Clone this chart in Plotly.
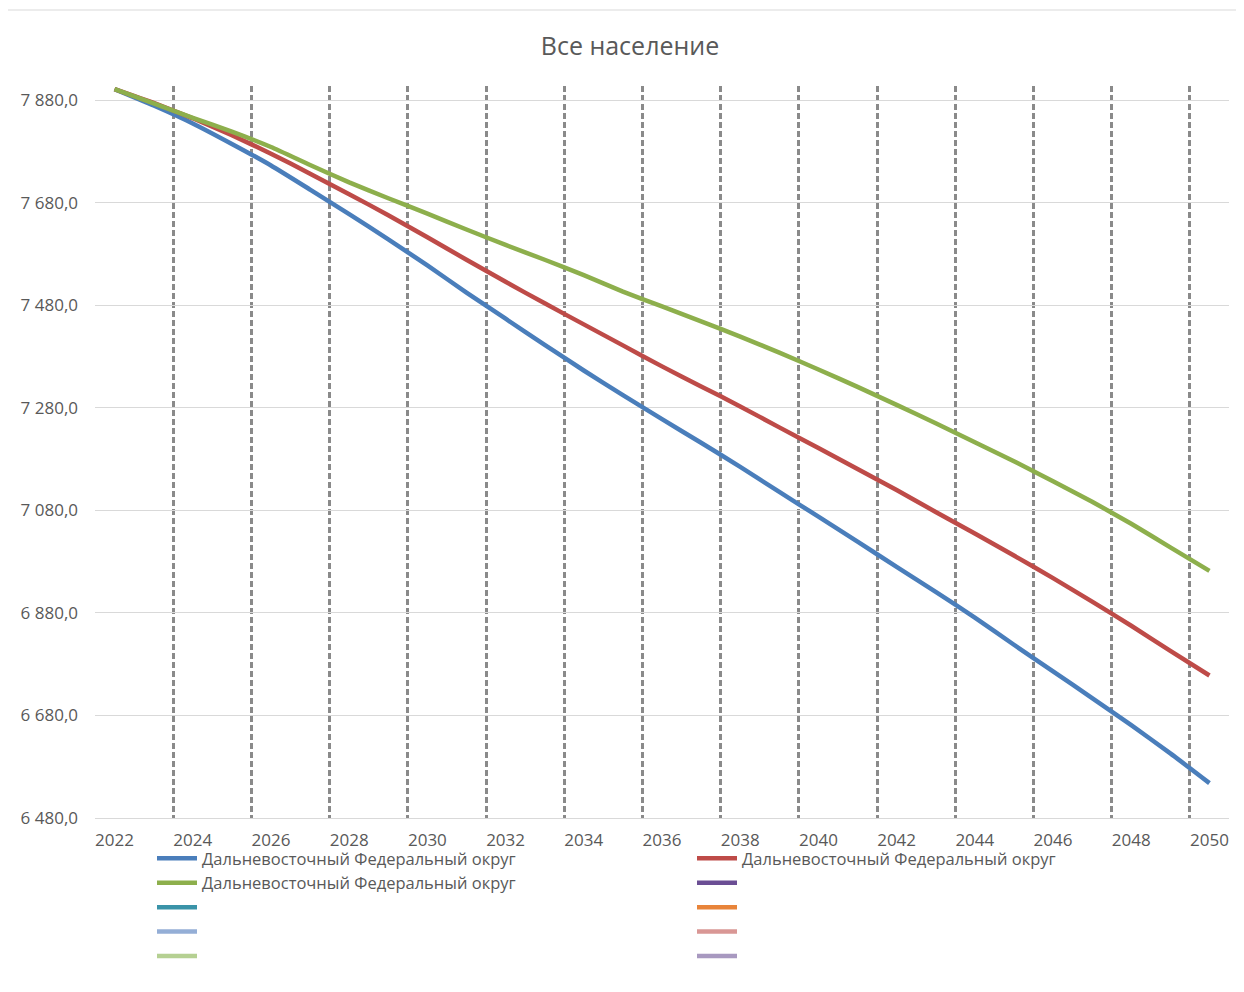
import plotly.graph_objects as go

years = list(range(2022, 2051))
x_tick_labels = [str(y) for y in range(2022, 2051, 2)]
y_tick_values = [6480, 6680, 6880, 7080, 7280, 7480, 7680, 7880]

series_name = "Дальневосточный Федеральный округ"

blue_values = [7902, 7870, 7835, 7795, 7753, 7706, 7658, 7609, 7558, 7505,
               7454, 7403, 7353, 7305, 7258, 7212, 7165, 7116, 7068, 7019,
               6970, 6921, 6871, 6818, 6766, 6714, 6661, 6606, 6548]
red_values = [7902, 7875, 7845, 7812, 7776, 7737, 7697, 7656, 7613, 7569,
              7526, 7484, 7443, 7402, 7361, 7322, 7283, 7242, 7202, 7161,
              7120, 7077, 7035, 6992, 6948, 6902, 6855, 6806, 6758]
green_values = [7902, 7874, 7846, 7819, 7789, 7754, 7720, 7689, 7659, 7628,
                7598, 7569, 7539, 7507, 7478, 7449, 7419, 7388, 7355, 7321,
                7286, 7250, 7213, 7176, 7137, 7097, 7054, 7008, 6962]
empty_values = []

# legend order (row-major, 2 columns) as in the reference
series = [
    (series_name, blue_values, "#4A7EBB"),
    (series_name, red_values, "#BE4B48"),
    (series_name, green_values, "#8DAF4C"),
    ("", empty_values, "#6B4E94"),
    ("", empty_values, "#3A93A8"),
    ("", empty_values, "#E8843A"),
    ("", empty_values, "#94AED6"),
    ("", empty_values, "#D99795"),
    ("", empty_values, "#B5D092"),
    ("", empty_values, "#A899C0"),
]

fig = go.Figure()
for name, vals, color in series:
    xs = years[:len(vals)] if vals else [None]
    ys = vals if vals else [None]
    fig.add_trace(go.Scatter(
        x=xs, y=ys, name=name, mode="lines",
        line=dict(color=color, width=4.5, shape="spline", smoothing=0.5),
        showlegend=True, hoverinfo="skip",
    ))

# vertical dashed grid lines between categories (every 2 categories)
boundaries = [y - 0.5 for y in range(2022, 2051, 2)]

OFF = 8  # page body margin
W, H = 1244 - OFF, 992 - OFF
ml, mt = 95 - OFF, 86 - OFF
mr = W - (1229 - OFF)
mb = H - (818 - OFF)
pw, ph = W - ml - mr, H - mt - mb


def px_x(px):
    return (px - OFF - ml) / pw


def px_y(py):
    return (H - mb - (py - OFF)) / ph


fig.update_layout(
    width=W, height=H,
    margin=dict(l=ml, r=mr, t=mt, b=mb),
    paper_bgcolor="white", plot_bgcolor="white",
    separators=", ",
    font=dict(family="Open Sans, sans-serif", color="#595959", size=16),
    title=dict(text="Все население", x=px_x(630), xref="paper",
               xanchor="center", y=1 - (46 - OFF) / H, yanchor="middle",
               font=dict(size=25, color="#595959")),
    xaxis=dict(
        range=[2021.5, 2050.5], tickmode="array",
        tickvals=list(range(2022, 2051, 2)), ticktext=x_tick_labels,
        showgrid=False, zeroline=False, showline=True, linecolor="#D9D9D9",
        linewidth=1, ticks="", ticklabelstandoff=7,
        tickfont=dict(size=17, color="#595959"),
        minor=dict(tickvals=boundaries, showgrid=True, griddash="6px,3px",
                   gridcolor="#8A8A8A", gridwidth=2.5, ticks=""),
    ),
    yaxis=dict(
        range=[6480, 7908], tickmode="array", tickvals=y_tick_values,
        tickformat=",.1f", showgrid=True, gridcolor="#D9D9D9", gridwidth=1,
        zeroline=False, showline=False, ticks="", ticklabelstandoff=16,
        tickfont=dict(size=17, color="#595959"),
    ),
    legend=dict(
        orientation="h", x=px_x(152), xanchor="left",
        y=px_y(841), yanchor="top",
        entrywidth=485, entrywidthmode="pixels", itemwidth=40,
        font=dict(size=16.5, color="#595959"), traceorder="normal",
        bgcolor="rgba(0,0,0,0)",
    ),
    shapes=[dict(type="rect", xref="paper", yref="paper",
                 x0=px_x(3), x1=px_x(1260),
                 y0=px_y(10), y1=px_y(1010),
                 line=dict(color="#D9D9D9", width=1), layer="below")],
)

fig.write_html("out.html")
